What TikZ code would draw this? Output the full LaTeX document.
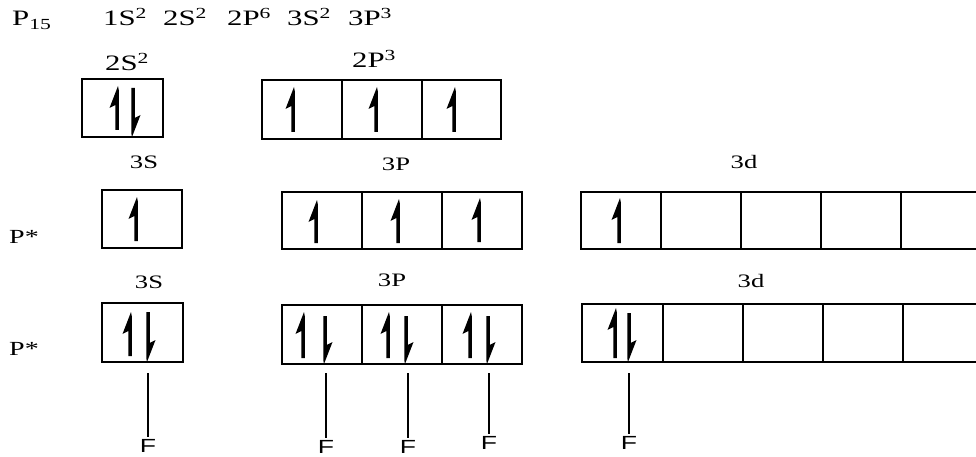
\documentclass[tikz,border=0pt]{standalone}
\usepackage{fontspec}
\setmainfont{Liberation Serif}
\newfontfamily\fsans{Liberation Sans}
\usepackage{graphicx}
\newcommand\stx[1]{\scalebox{1.4}[1]{#1}}
% up harpoon: x, tip y, bottom y
\newcommand\eup[3]{\fill ({#1-1.75},{#3}) -- ({#1-1.75},{#2+19}) -- ({#1-7.5},{#2+22}) -- ({#1+1},{#2}) -- ({#1+1.75},{#2+4}) -- ({#1+1.75},{#3}) -- cycle;}
% down harpoon: x, top y, tip y
\newcommand\edn[3]{\fill ({#1+1.75},{#2}) -- ({#1+1.75},{#3-19}) -- ({#1+7.5},{#3-22}) -- ({#1-1},{#3}) -- ({#1-1.75},{#3-4}) -- ({#1-1.75},{#2}) -- cycle;}
\newcommand\orbbox[5]{\node[orb, minimum width={#4-#2}, minimum height={#5-#3}] (#1) at (#2,#3) {};}
\tikzset{
  orb/.style={draw, line width=1.5pt, inner sep=0pt, outer sep=0pt, anchor=north west},
  biglbl/.style={inner sep=0pt, anchor=base west, font=\fontsize{22}{22}\selectfont},
  lbl/.style={inner sep=0pt, anchor=base, font=\fontsize{19}{19}\selectfont},
  plbl/.style={inner sep=0pt, anchor=base west, font=\fontsize{20}{20}\selectfont},
  flbl/.style={inner sep=1.5pt, anchor=base, font=\fsans\fontsize{19}{19}\selectfont},
  bond/.style={line width=2pt},
}
\begin{document}
\begin{tikzpicture}[x=1pt,y=-1pt]
\useasboundingbox (0,0) rectangle (976,457);
% top line
\node[biglbl] (p15) at (12,26) {\stx{P\textsubscript{15}}};
\node[biglbl] (conf) at (103,26) {\makebox[60pt][l]{\stx{1S\textsuperscript{2}}}\makebox[64pt][l]{\stx{2S\textsuperscript{2}}}\makebox[60pt][l]{\stx{2P\textsuperscript{6}}}\makebox[61pt][l]{\stx{3S\textsuperscript{2}}}\stx{3P\textsuperscript{3}}};
% row 1
\node[biglbl] (l2s) at (105,71) {\stx{2S\textsuperscript{2}}};
\node[biglbl] (l2p) at (352,68) {\stx{2P\textsuperscript{3}}};
\orbbox{a1}{82}{79}{163}{137}
\orbbox{a2}{262}{80}{342}{139}
\orbbox{a3}{342}{80}{422}{139}
\orbbox{a4}{422}{80}{501}{139}
\eup{117}{86}{130}
\edn{133}{88}{137}
\eup{293}{87}{132}
\eup{376}{87}{132}
\eup{454}{87}{132}
% row 2
\node[lbl] (l3s) at (144,168) {\stx{3S}};
\node[lbl] (l3p) at (396,171) {\stx{3P}};
\node[lbl] (l3d) at (744,168) {\stx{3d}};
\node[plbl] (ps1) at (9,243) {\stx{P*}};
\orbbox{b1}{102}{190}{182}{248}
\orbbox{b2}{282}{192}{362}{249}
\orbbox{b3}{362}{192}{442}{249}
\orbbox{b4}{442}{192}{522}{249}
\orbbox{b5}{581}{192}{661}{249}
\orbbox{b6}{661}{192}{741}{249}
\orbbox{b7}{741}{192}{821}{249}
\orbbox{b8}{821}{192}{901}{249}
\orbbox{b9}{901}{192}{982}{249}
\eup{136}{197}{241}
\eup{316}{200}{243}
\eup{398}{199}{243}
\eup{479}{198}{242}
\eup{619}{198}{243}
% row 3
\node[lbl] (m3s) at (149,288) {\stx{3S}};
\node[lbl] (m3p) at (392,286) {\stx{3P}};
\node[lbl] (m3d) at (751,287) {\stx{3d}};
\node[plbl] (ps2) at (9,355) {\stx{P*}};
\orbbox{c1}{102}{303}{183}{362}
\orbbox{c2}{282}{305}{362}{364}
\orbbox{c3}{362}{305}{442}{364}
\orbbox{c4}{442}{305}{522}{364}
\orbbox{c5}{582}{304}{663}{362}
\orbbox{c6}{663}{304}{743}{362}
\orbbox{c7}{743}{304}{823}{362}
\orbbox{c8}{823}{304}{903}{362}
\orbbox{c9}{903}{304}{984}{362}
\eup{130}{312}{356}
\edn{148}{312}{362}
\eup{303}{312}{358}
\edn{325}{316}{364}
\eup{388}{312}{358}
\edn{406}{316}{364}
\eup{470}{312}{358}
\edn{488}{316}{364}
\eup{615}{308}{358}
\edn{629}{313}{362}
% bonds to F
\coordinate (t1) at (148,373);
\coordinate (t2) at (326,373);
\coordinate (t3) at (408,373);
\coordinate (t4) at (489,373);
\coordinate (t5) at (629,373);
\node[flbl] (F1) at (148,452) {\stx{F}};
\node[flbl] (F2) at (326,453) {\stx{F}};
\node[flbl] (F3) at (408,453) {\stx{F}};
\node[flbl] (F4) at (489,449) {\stx{F}};
\node[flbl] (F5) at (629,449) {\stx{F}};
\draw[bond] (t1) -- (F1.north);
\draw[bond] (t2) -- (F2.north);
\draw[bond] (t3) -- (F3.north);
\draw[bond] (t4) -- (F4.north);
\draw[bond] (t5) -- (F5.north);
\end{tikzpicture}
\end{document}
